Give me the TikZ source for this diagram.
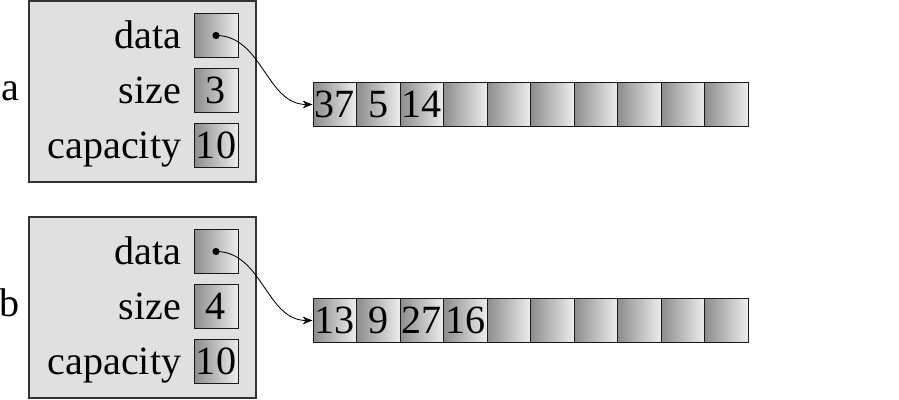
\documentclass[tikz,border=0pt]{standalone}
\usepackage{fontspec}
\setmainfont{Liberation Serif}
\usetikzlibrary{positioning,arrows.meta}

\tikzset{
  struct/.style={draw=black!80,line width=0.9pt,fill=black!12,minimum width=5.675cm,minimum height=4.525cm},
  cell/.style={draw=black!90,line width=0.7pt,left color=black!45,right color=black!7,
               minimum width=1.1cm,minimum height=1.1cm,inner sep=0pt},
  slot/.style={cell,minimum width=1.0875cm},
  txt/.style={inner sep=0pt,text height=0.66cm,text depth=0pt},
  field/.style={txt,left=0.3cm of #1}
}

\begin{document}
\begin{tikzpicture}[>={Stealth[length=7pt,width=5.5pt]},font=\fontsize{28.5}{32}\selectfont]
    \useasboundingbox (0,0) rectangle (22.475,10);

    \foreach \name/\sz/\dy/\vals in {a/3/0/{37,5,14}, b/4/5.4/{13,9,27,16}} {
        % the struct itself
        \node[struct] (\name-box) at (3.5625,7.7125-\dy) {};
        \node[txt,text height=0.45cm,left=0.22cm of \name-box] (\name-name) {\name};

        % its three fields
        \node[cell] (\name-data) at (5.4,9.1125-\dy) {};
        \node[cell] (\name-size) at (5.4,7.7375-\dy) {};
        \node[cell] (\name-cap)  at (5.4,6.3625-\dy) {};
        \node[field=\name-data] (\name-datal) {data};
        \node[field=\name-size] (\name-sizel) {size};
        \node[field=\name-cap]  (\name-capl)  {capacity};
        \node[txt] (\name-sizev) at (\name-size) {\sz};
        \node[txt] (\name-capv)  at (\name-cap)  {10};

        % the array it points to
        \foreach \i in {1,...,10}
            \node[slot] (\name\i) at (7.825+1.0875*\i-0.54375,7.3875-\dy) {};
        \foreach \v [count=\i] in \vals
            \node[txt] (\name v\i) at (\name\i) {\v};

        % pointer from data to the first slot
        \fill (\name-data.center) circle(0.09cm);
        \draw[->,line width=0.6pt] (\name-data.center) to[out=0,in=180] (\name1.west);
    }
\end{tikzpicture}
\end{document}
